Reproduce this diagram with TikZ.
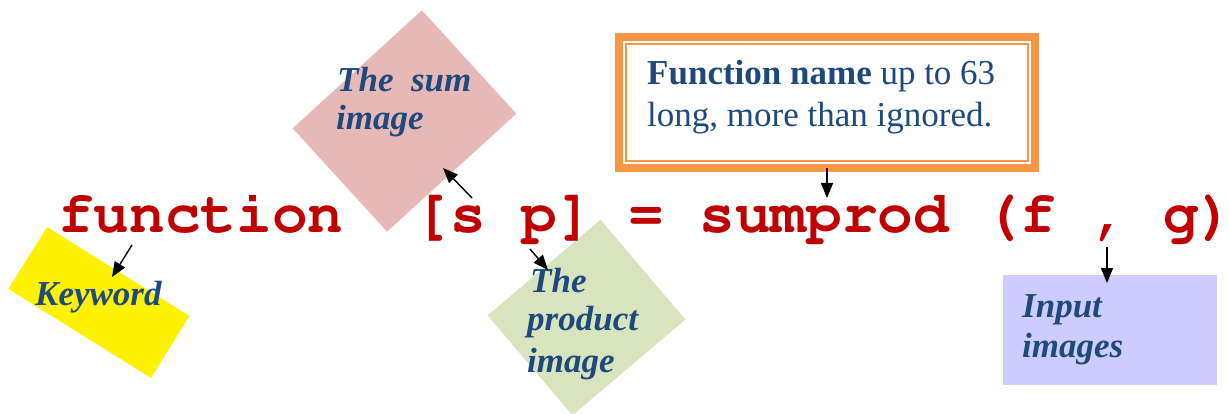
\documentclass[tikz,border=0pt]{standalone}
\usepackage[T1]{fontenc}
\usepackage{fontspec}
\setmainfont{Liberation Serif}
\setmonofont{Liberation Mono}
\usetikzlibrary{calc,arrows.meta,positioning}

\definecolor{codered}{RGB}{192,0,0}
\definecolor{tagblue}{RGB}{31,73,125}
\definecolor{sumpink}{RGB}{230,185,184}
\definecolor{prodgreen}{RGB}{215,228,189}
\definecolor{inputlilac}{RGB}{204,204,255}
\definecolor{nameorange}{RGB}{247,150,70}

\newcommand{\codefont}{\fontencoding{T1}\fontfamily{pcr}\fontseries{b}\fontshape{n}\fontsize{59.4}{60}\selectfont}

\tikzset{
  tag/.style={font=\fontsize{35}{40}\selectfont\bfseries\itshape, text=tagblue, inner sep=0pt, anchor=base west},
  plaintag/.style={font=\fontsize{35}{42}\selectfont, text=tagblue, inner sep=0pt, anchor=base west},
  patch/.style={draw=none, inner sep=0pt, outer sep=0pt},
  pointer/.style={-{Triangle[length=15pt,width=12pt]}, line width=1.4pt, black}
}

\begin{document}
\begin{tikzpicture}[x=1pt,y=1pt]
\useasboundingbox (0,0) rectangle (1229,413);
% coloured patches behind the labels
\node[patch, fill=yellow, minimum width=168pt, minimum height=73pt, rotate=-32] (keybox) at (99,110.5) {};
\node[patch, fill=sumpink, minimum width=175pt, minimum height=140pt, rotate=42.4] (sumbox) at (404.5,292) {};
\node[patch, fill=prodgreen, minimum width=148pt, minimum height=131pt, rotate=40.3] (prodbox) at (586.5,95.5) {};
\node[patch, fill=inputlilac, minimum width=214pt, minimum height=110pt] (inputbox) at (1110,83) {};
\node[patch, draw=nameorange, line width=8pt, minimum width=416pt, minimum height=131pt, fill=white] (namebox) at (827,310.5) {};
\draw[nameorange, line width=1.5pt] ($(namebox.south west)+(7,7)$) rectangle ($(namebox.north east)+(-7,-7)$);

% the function line
\node[font=\codefont, text=codered, inner sep=0pt, anchor=base west] (code) at (58,181)
  {function\ \ [s\ p]\ =\ sumprod\ (f\ ,\ g)};

% labels
\node[tag] (keytext) at (35,108) {Keyword};
\node[tag] (sumtexta) at (337,321) {The\ \ sum};
\node[tag] (sumtextb) at (336,283) {image};
\node[tag] (prodtexta) at (530,121) {The};
\node[tag] (prodtextb) at (527,83) {product};
\node[tag] (prodtextc) at (527,41) {image};
\node[tag] (inputtexta) at (1022,96) {Input};
\node[tag] (inputtextb) at (1022,56) {images};
\node[plaintag] (nametexta) at (647,328) {\textbf{Function name} up to 63};
\node[plaintag] (nametextb) at (647,286) {long, more than ignored.};

% pointers
\coordinate (keytail) at (132,168);
\coordinate (keytip) at (112,136);
\coordinate (sumtail) at (472,215);
\coordinate (sumtip) at (443,245);
\coordinate (prodtail) at (530,164);
\coordinate (prodtip) at (548,143);
\coordinate (nametip) at (827,215);
\coordinate (inputtail) at (1107,166);
\coordinate (inputtip) at (1107,130);
\draw[pointer] (keytail) -- (keytip);
\draw[pointer] (sumtail) -- (sumtip);
\draw[pointer] (prodtail) -- (prodtip);
\draw[pointer] (namebox.south) -- (nametip);
\draw[pointer] (inputtail) -- (inputtip);
\end{tikzpicture}
\end{document}
